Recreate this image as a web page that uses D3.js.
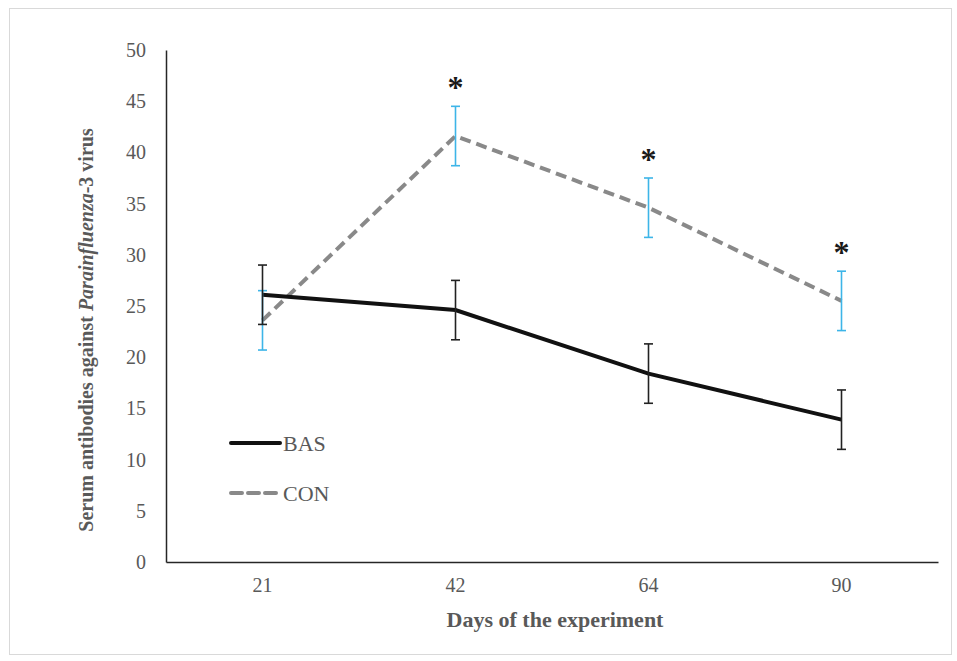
<!DOCTYPE html>
<html>
<head>
<meta charset="utf-8">
<script src="https://cdn.jsdelivr.net/npm/d3@7"></script>
<style>
  body { margin: 0; background: #fff; }
  text { font-family: "Liberation Serif", "Times New Roman", serif; }
</style>
</head>
<body>
<div id="chart"></div>
<script>
// Days of sampling
const days = ['21', '42', '64', '90'];
// Mean antibody titres
const basValues = [26.1, 24.6, 18.4, 13.9];
const conValues = [23.6, 41.6, 34.6, 25.5];
// Error (+/-)
const basErr = [2.9, 2.9, 2.9, 2.9];
const conErr = [2.9, 2.9, 2.9, 2.9];
// Significance markers
const signif = [false, true, true, true];
const yTicks = [0, 5, 10, 15, 20, 25, 30, 35, 40, 45, 50];

const width = 957, height = 661;
const margin = {top: 50, right: 19, bottom: 99, left: 166};

const svg = d3.select('#chart').append('svg')
  .attr('width', width)
  .attr('height', height);

// outer frame
svg.append('rect')
  .attr('x', 9.5).attr('y', 8.5)
  .attr('width', 942).attr('height', 646)
  .attr('fill', 'none')
  .attr('stroke', '#d9d9d9')
  .attr('stroke-width', 1);

const innerW = width - margin.left - margin.right;
const innerH = height - margin.top - margin.bottom;

const chart = svg.append('g')
  .attr('transform', `translate(${margin.left},${margin.top})`);

const x = d3.scaleBand().domain(days).range([0, innerW]).padding(0);
const y = d3.scaleLinear().domain([0, 50]).range([innerH, 0]);
const cx = d => x(d) + x.bandwidth() / 2;

// y axis
const yAxis = chart.append('g')
  .call(d3.axisLeft(y).tickValues(yTicks).tickSize(0).tickPadding(20));
yAxis.select('.domain').attr('stroke', '#262626').attr('stroke-width', 1.5);
yAxis.selectAll('text')
  .attr('fill', '#595959')
  .style('font-size', '20px');

// x axis
const xAxis = chart.append('g')
  .attr('transform', `translate(0,${innerH})`)
  .call(d3.axisBottom(x).tickSize(0).tickPadding(16));
xAxis.select('.domain').attr('stroke', '#262626').attr('stroke-width', 1.5);
xAxis.selectAll('text')
  .attr('fill', '#595959')
  .style('font-size', '20px');

// axis titles
svg.append('text')
  .attr('x', 555)
  .attr('y', 627)
  .attr('text-anchor', 'middle')
  .attr('fill', '#595959')
  .style('font-size', '22px')
  .style('font-weight', 'bold')
  .text('Days of the experiment');

const yTitle = svg.append('text')
  .attr('transform', 'translate(93,330) rotate(-90)')
  .attr('text-anchor', 'middle')
  .attr('fill', '#595959')
  .style('font-size', '20px')
  .style('font-weight', 'bold');
yTitle.append('tspan').text('Serum antibodies against ');
yTitle.append('tspan').style('font-style', 'italic').text('Parainfluenza');
yTitle.append('tspan').text('-3 virus');

const line = d3.line()
  .x((d, i) => cx(days[i]))
  .y(d => y(d));

// lines
chart.append('path')
  .datum(conValues)
  .attr('d', line)
  .attr('fill', 'none')
  .attr('stroke', '#898989')
  .attr('stroke-width', 4)
  .attr('stroke-dasharray', '11,6');

chart.append('path')
  .datum(basValues)
  .attr('d', line)
  .attr('fill', 'none')
  .attr('stroke', '#111')
  .attr('stroke-width', 4);

// error bars
function errorBars(values, errs, color, cls) {
  const g = chart.append('g').attr('class', cls);
  const data = values.map((v, i) => ({day: days[i], v, e: errs[i]}));
  g.selectAll('line.stem').data(data).join('line')
    .attr('class', 'stem')
    .attr('x1', d => cx(d.day)).attr('x2', d => cx(d.day))
    .attr('y1', d => y(d.v + d.e)).attr('y2', d => y(d.v - d.e))
    .attr('stroke', color).attr('stroke-width', 1.6);
  g.selectAll('line.capTop').data(data).join('line')
    .attr('class', 'capTop')
    .attr('x1', d => cx(d.day) - 4.5).attr('x2', d => cx(d.day) + 4.5)
    .attr('y1', d => y(d.v + d.e)).attr('y2', d => y(d.v + d.e))
    .attr('stroke', color).attr('stroke-width', 1.6);
  g.selectAll('line.capBot').data(data).join('line')
    .attr('class', 'capBot')
    .attr('x1', d => cx(d.day) - 4.5).attr('x2', d => cx(d.day) + 4.5)
    .attr('y1', d => y(d.v - d.e)).attr('y2', d => y(d.v - d.e))
    .attr('stroke', color).attr('stroke-width', 1.6);
}
errorBars(conValues, conErr, '#3db5e8', 'err-con');
errorBars(basValues, basErr, '#222', 'err-bas');

// asterisks
chart.selectAll('.star')
  .data(days.filter((d, i) => signif[i]).map(d => ({day: d, i: days.indexOf(d)})))
  .join('text')
  .attr('class', 'star')
  .attr('x', d => cx(d.day))
  .attr('y', d => y(conValues[d.i] + conErr[d.i]) - 8)
  .attr('text-anchor', 'middle')
  .attr('fill', '#1a1a1a')
  .style('font-size', '32px')
  .style('font-weight', 'bold')
  .text('*');

// legend
const legend = svg.append('g').attr('transform', 'translate(229,443)');
const legendItems = [
  {name: 'BAS', color: '#111', dash: null},
  {name: 'CON', color: '#898989', dash: '11,6'}
];
const li = legend.selectAll('g').data(legendItems).join('g')
  .attr('transform', (d, i) => `translate(0,${i * 50})`);
li.append('line')
  .attr('x1', 2).attr('x2', 51)
  .attr('stroke', d => d.color)
  .attr('stroke-width', 4)
  .attr('stroke-linecap', 'round')
  .attr('stroke-dasharray', d => d.dash);
li.append('text')
  .attr('x', 54).attr('dy', '0.35em')
  .attr('fill', '#595959')
  .style('font-size', '22px')
  .text(d => d.name);
</script>
</body>
</html>
